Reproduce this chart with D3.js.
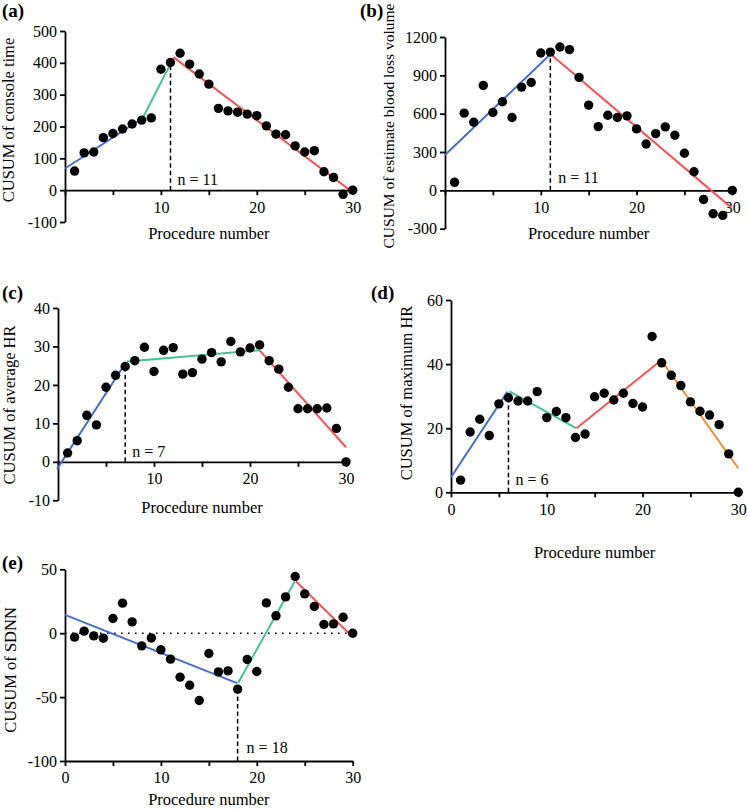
<!DOCTYPE html>
<html>
<head>
<meta charset="utf-8">
<script src="https://cdn.jsdelivr.net/npm/d3@7"></script>
<style>
  body { margin: 0; background: #fff; }
  svg { display: block; font-family: "Liberation Serif", "Times New Roman", serif; }
  .axis path, .axis line { stroke: #000; stroke-width: 1.8; }
  .axis text { font-size: 16px; fill: #000; font-family: "Liberation Serif", "Times New Roman", serif; }
</style>
</head>
<body>
<div id="chart"></div>
<script>
// procedure numbers 1..30
const procedures = [1,2,3,4,5,6,7,8,9,10,11,12,13,14,15,16,17,18,19,20,21,22,23,24,25,26,27,28,29,30];

// (a) CUSUM of console time
const consoleTime = [60,117,120,165,178,192,208,220,227,380,401,430,396,365,333,257,249,245,239,234,202,176,174,139,120,124,58,40,-13,0];
const consoleFit = [[0,68,8.1,226],[8.1,226,11.05,400],[11.3,418,29.7,0]];

// (b) CUSUM of estimate blood loss volume
const bloodLoss = [63,604,533,821,609,693,570,808,844,1075,1082,1122,1101,884,667,499,588,570,583,481,363,444,497,431,290,146,-71,-183,-196,0];
const bloodFit = [[0,277,10.95,1061],[11.1,1061,29.9,-135]];

// (c) CUSUM of average HR
const avgHR = [2.3,5.5,12.1,9.6,19.4,22.5,24.8,26.3,29.8,23.5,29.0,29.7,22.8,23.2,26.7,28.4,26.0,31.3,28.6,29.6,30.4,26.3,24.1,19.4,13.8,13.8,13.8,14.0,8.7,0];
const avgFit = [[-0.1,-1.9,6.9,25.2],[7.2,26.1,21,29],[21,29,30,3.8]];

// (d) CUSUM of maximum HR
const maxHR = [3.8,18.8,22.8,17.7,27.6,29.5,28.5,28.5,31.4,23.3,25.2,23.3,17.1,18.2,29.8,30.9,28.8,30.9,27.7,26.6,48.6,40.4,36.5,33.3,28.2,25.3,24.1,21.1,12.0,0];
const maxFit = [[0,4.7,5.9,31.4],[6.1,31.5,13.05,20],[13.1,20,21.8,40.8],[22.2,40.2,30,7.5]];

// (e) CUSUM of SDNN
const sdnn = [-3.1,1.6,-2.1,-3.9,11.5,23.5,8.9,-9.9,-3.7,-13,-20.3,-34.4,-40.7,-52.7,-15.9,-30.3,-29.5,-43.8,-20.6,-30,23.7,13.6,28.4,44.4,30.8,20.9,6.8,7.3,12.5,0];
const sdnnFit = [[0,14.3,17.95,-39.1],[18.05,-39,23.96,40.4],[24.1,40.4,29.7,-0.8]];

const blue = "#4a6cc4", green = "#43c193", red = "#f0545a", orange = "#f58a30";
const serif = "'Liberation Serif', 'Times New Roman', serif";

const panels = [
  { tag: "(a)", tagPos: [2, 17], yLabel: "CUSUM of console time", yLabelPos: [10, 120],
    values: consoleTime, fit: consoleFit, colors: [blue, green, red],
    xr: [65, 352.7], yd: [-100, 500], yr: [222, 31],
    yTicks: [-100,0,100,200,300,400,500], xAt: 0, xLabels: [10,20,30], xLabelY: 239,
    cut: 11, cutTop: 398, nOff: [7, -5] },
  { tag: "(b)", tagPos: [360, 17], yLabel: "CUSUM of estimate blood loss volume", yLabelPos: [390, 126],
    values: bloodLoss, fit: bloodFit, colors: [blue, red],
    xr: [445, 732.3], yd: [-300, 1200], yr: [228.7, 37],
    yTicks: [-300,0,300,600,900,1200], xAt: 0, xLabels: [10,20,30], xLabelY: 239,
    cut: 11, cutTop: 1061, nOff: [8, -7], yLabelSize: 15.5 },
  { tag: "(c)", tagPos: [2, 299], yLabel: "CUSUM of average HR", yLabelPos: [11, 405],
    values: avgHR, fit: avgFit, colors: [blue, green, red],
    xr: [58, 346], yd: [-10, 40], yr: [500.3, 308],
    yTicks: [-10,0,10,20,30,40], xAt: 0, xLabels: [10,20,30], xLabelY: 513,
    cut: 7, cutTop: 24.8, nOff: [7, -5] },
  { tag: "(d)", tagPos: [371, 299], yLabel: "CUSUM of maximum HR", yLabelPos: [408, 393],
    values: maxHR, fit: maxFit, colors: [blue, green, red, orange],
    xr: [451, 738.3], yd: [0, 60], yr: [492.3, 300],
    yTicks: [0,20,40,60], xAt: 0, xLabels: [0,10,20,30], xLabelY: 558,
    cut: 6, cutTop: 31, nOff: [7, -7] },
  { tag: "(e)", tagPos: [2, 569], yLabel: "CUSUM of SDNN", yLabelPos: [12, 670],
    values: sdnn, fit: sdnnFit, colors: [blue, green, red],
    xr: [65, 352.7], yd: [-100, 50], yr: [761, 569.3],
    yTicks: [-100,-50,0,50], xAt: -100, xLabels: [0,10,20,30], xLabelY: 805,
    cut: 18, cutTop: -44, nOff: [9, -8], zeroLine: true }
];

const svg = d3.select("#chart").append("svg")
  .attr("width", 747)
  .attr("height", 810);

panels.forEach(p => {
  const x = d3.scaleLinear().domain([0, 30]).range(p.xr);
  const y = d3.scaleLinear().domain(p.yd).range(p.yr);
  const g = svg.append("g");

  // panel tag
  g.append("text")
    .attr("x", p.tagPos[0]).attr("y", p.tagPos[1])
    .attr("font-size", 19).attr("font-weight", "bold")
    .text(p.tag);

  // y axis
  g.append("g")
    .attr("class", "axis")
    .attr("transform", `translate(${x(0)},0)`)
    .call(d3.axisLeft(y).tickValues(p.yTicks).tickSize(5).tickSizeOuter(0).tickPadding(3)
      .tickFormat(d => String(d)))
    .attr("font-family", serif).attr("font-size", 16);

  // x axis
  g.append("g")
    .attr("class", "axis")
    .attr("transform", `translate(0,${y(p.xAt)})`)
    .call(d3.axisBottom(x).tickValues([0,5,10,15,20,25,30]).tickSize(5).tickSizeOuter(0).tickPadding(6)
      .tickFormat(d => p.xLabels.includes(d) ? String(d) : ""))
    .attr("font-family", serif).attr("font-size", 16);

  // axis titles
  g.append("text")
    .attr("transform", `translate(${p.yLabelPos[0]},${p.yLabelPos[1]}) rotate(-90)`)
    .attr("text-anchor", "middle")
    .attr("dominant-baseline", "middle")
    .attr("font-size", p.yLabelSize || 16.5)
    .text(p.yLabel);

  g.append("text")
    .attr("x", (p.xr[0] + p.xr[1]) / 2)
    .attr("y", p.xLabelY)
    .attr("text-anchor", "middle")
    .attr("font-size", 16.5)
    .text("Procedure number");

  // dotted zero reference
  if (p.zeroLine) {
    g.append("line")
      .attr("x1", x(0)).attr("x2", x(30))
      .attr("y1", y(0)).attr("y2", y(0))
      .attr("stroke", "#000").attr("stroke-width", 1.6)
      .attr("stroke-dasharray", "1.6,5.4");
  }

  // fitted segments
  g.selectAll(".fit")
    .data(p.fit)
    .join("line")
    .attr("class", "fit")
    .attr("x1", d => x(d[0])).attr("y1", d => y(d[1]))
    .attr("x2", d => x(d[2])).attr("y2", d => y(d[3]))
    .attr("stroke", (d, i) => p.colors[i])
    .attr("stroke-width", 2);

  // cut point
  g.append("line")
    .attr("x1", x(p.cut)).attr("x2", x(p.cut))
    .attr("y1", y(p.xAt)).attr("y2", y(p.cutTop))
    .attr("stroke", "#000").attr("stroke-width", 1.5)
    .attr("stroke-dasharray", "4.5,3");

  g.append("text")
    .attr("x", x(p.cut) + p.nOff[0])
    .attr("y", y(p.xAt) + p.nOff[1])
    .attr("font-size", 16)
    .text("n = " + p.cut);

  // points
  g.selectAll(".pt")
    .data(p.values)
    .join("circle")
    .attr("class", "pt")
    .attr("cx", (d, i) => x(procedures[i]))
    .attr("cy", d => y(d))
    .attr("r", 4.7)
    .attr("fill", "#000");
});
</script>
</body>
</html>
